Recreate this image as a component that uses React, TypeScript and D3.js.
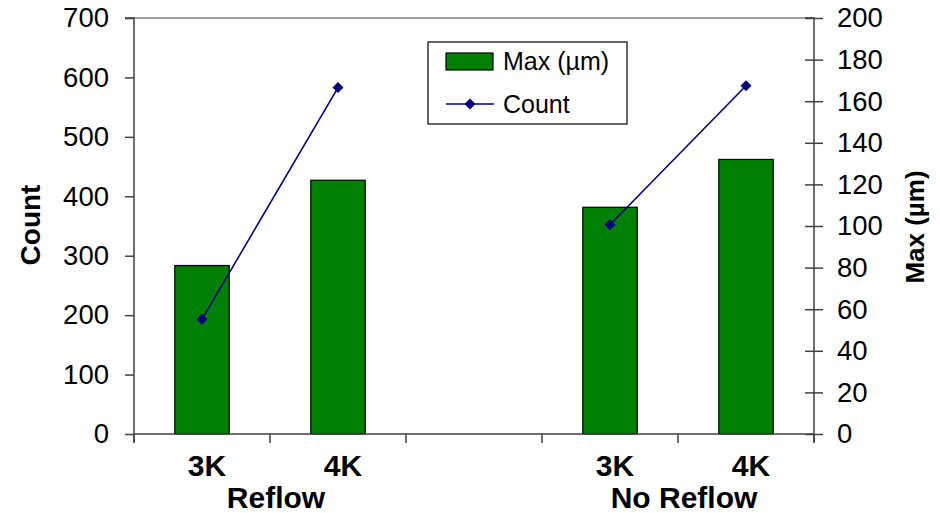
import { useEffect, useRef } from "react";
import * as d3 from "d3";

const CATEGORIES = ["R3K", "R4K", "gap", "N3K", "N4K"];
const CATEGORY_LABELS = ["3K", "4K", "", "3K", "4K"];
const GROUP_LABELS = ["Reflow", "No Reflow"];
const GROUP_SPANS = [["R3K", "R4K"], ["N3K", "N4K"]];
const MAX_UM: (number | null)[] = [81, 122, null, 109, 132];
const COUNT: (number | null)[] = [193, 583, null, 352, 586];
const COUNT_TICKS = [0, 100, 200, 300, 400, 500, 600, 700];
const MAX_TICKS = [0, 20, 40, 60, 80, 100, 120, 140, 160, 180, 200];

const W = 940;
const H = 513;
const FONT = "'Liberation Sans', Arial, sans-serif";
const BAR_COLOR = "#008000";
const LINE_COLOR = "#000080";
const AXIS_COLOR = "#404040";

function buildChart(svgEl: SVGSVGElement) {
  const margin = { top: 18, right: 126, bottom: 79, left: 134 };
  const innerW = W - margin.left - margin.right;
  const innerH = H - margin.top - margin.bottom;

  const svg = d3.select(svgEl);
  svg.selectAll("*").remove();

  const g = svg.append("g").attr("transform", `translate(${margin.left},${margin.top})`);

  const x = d3.scaleBand<string>().domain(CATEGORIES).range([0, innerW]).padding(0);
  const yCount = d3.scaleLinear().domain([0, 700]).range([innerH, 0]);
  const yMax = d3.scaleLinear().domain([0, 200]).range([innerH, 0]);
  const barW = x.bandwidth() * 0.4;
  const cx = (c: string) => (x(c) as number) + x.bandwidth() / 2;

  // top border of plot area
  g.append("line")
    .attr("x1", 0).attr("x2", innerW).attr("y1", 0).attr("y2", 0)
    .attr("stroke", "#808080").attr("stroke-width", 1.5);

  // bars (Max)
  g.append("g")
    .selectAll("rect")
    .data(CATEGORIES.map((c, i) => ({ c, v: MAX_UM[i] })).filter(d => d.v != null))
    .join("rect")
    .attr("x", d => cx(d.c) - barW / 2)
    .attr("y", d => yMax(d.v as number))
    .attr("width", barW)
    .attr("height", d => innerH - yMax(d.v as number))
    .attr("fill", BAR_COLOR)
    .attr("stroke", "#000")
    .attr("stroke-width", 1.2);

  // x axis: boundary ticks
  const xAxis = g.append("g").attr("transform", `translate(0,${innerH})`);
  xAxis.append("line")
    .attr("x1", 0).attr("x2", innerW)
    .attr("stroke", AXIS_COLOR).attr("stroke-width", 1.5);
  const bounds = CATEGORIES.map(c => x(c) as number).concat([innerW]);
  xAxis.selectAll("line.tick")
    .data(bounds)
    .join("line")
    .attr("class", "tick")
    .attr("x1", d => d).attr("x2", d => d)
    .attr("y1", 0).attr("y2", 9)
    .attr("stroke", AXIS_COLOR).attr("stroke-width", 1.5);

  xAxis.selectAll("text.cat")
    .data(CATEGORIES.map((c, i) => ({ c, label: CATEGORY_LABELS[i] })).filter(d => d.label))
    .join("text")
    .attr("class", "cat")
    .attr("x", d => cx(d.c) + 5)
    .attr("y", 42)
    .attr("text-anchor", "middle")
    .style("font-family", FONT)
    .style("font-size", "30px")
    .style("font-weight", "bold")
    .text(d => d.label);

  xAxis.selectAll("text.group")
    .data(GROUP_SPANS.map((s, i) => ({ s, label: GROUP_LABELS[i] })))
    .join("text")
    .attr("class", "group")
    .attr("x", d => (cx(d.s[0]) + cx(d.s[1])) / 2 + 6)
    .attr("y", 74)
    .attr("text-anchor", "middle")
    .style("font-family", FONT)
    .style("font-size", "30px")
    .style("font-weight", "bold")
    .text(d => d.label);

  // left axis (Count)
  g.append("g")
    .call(d3.axisLeft(yCount).tickValues(COUNT_TICKS).tickSize(9).tickPadding(16))
    .call(ax => {
      ax.select(".domain").attr("stroke", AXIS_COLOR).attr("stroke-width", 1.5)
        .attr("d", `M-9,0H0V${innerH + 9}`);
      ax.selectAll("line").attr("stroke", AXIS_COLOR).attr("stroke-width", 1.5);
      ax.selectAll("text")
        .attr("fill", "#000")
        .style("font-family", FONT)
        .style("font-size", "27.5px");
    });

  // right axis (Max)
  g.append("g")
    .attr("transform", `translate(${innerW},0)`)
    .call(d3.axisRight(yMax).tickValues(MAX_TICKS).tickSize(9).tickPadding(14))
    .call(ax => {
      ax.select(".domain").attr("stroke", AXIS_COLOR).attr("stroke-width", 1.5)
        .attr("d", `M-9,0H0V${innerH + 9}`);
      ax.selectAll(".tick line")
        .attr("x1", -9).attr("x2", 9)
        .attr("stroke", AXIS_COLOR).attr("stroke-width", 1.5);
      ax.selectAll("text")
        .attr("fill", "#000")
        .style("font-family", FONT)
        .style("font-size", "27.5px");
    });

  // count line (broken at the gap)
  const pts = CATEGORIES.map((c, i) => ({ c, v: COUNT[i] }));
  const line = d3.line<{ c: string; v: number | null }>()
    .defined(d => d.v != null)
    .x(d => cx(d.c))
    .y(d => yCount(d.v as number));
  g.append("path")
    .datum(pts)
    .attr("fill", "none")
    .attr("stroke", LINE_COLOR)
    .attr("stroke-width", 1.6)
    .attr("d", line);

  const diamond = d3.symbol().type(d3.symbolSquare).size(60);
  g.append("g")
    .selectAll("path")
    .data(pts.filter(d => d.v != null))
    .join("path")
    .attr("d", diamond)
    .attr("transform", d => `translate(${cx(d.c)},${yCount(d.v as number)}) rotate(45)`)
    .attr("fill", LINE_COLOR);

  // axis titles
  svg.append("text")
    .attr("transform", `translate(40,225) rotate(-90)`)
    .attr("text-anchor", "middle")
    .style("font-family", FONT)
    .style("font-size", "28px")
    .style("font-weight", "bold")
    .text("Count");

  svg.append("text")
    .attr("transform", `translate(924,227) rotate(-90)`)
    .attr("text-anchor", "middle")
    .style("font-family", FONT)
    .style("font-size", "26px")
    .style("font-weight", "bold")
    .text("Max (µm)");

  // legend
  const lg = svg.append("g").attr("transform", "translate(428,42)");
  lg.append("rect")
    .attr("width", 199).attr("height", 82)
    .attr("fill", "#fff").attr("stroke", "#000").attr("stroke-width", 1.2);
  lg.append("rect")
    .attr("x", 18).attr("y", 11).attr("width", 47).attr("height", 17)
    .attr("fill", BAR_COLOR).attr("stroke", "#000").attr("stroke-width", 1.2);
  lg.append("text")
    .attr("x", 75).attr("y", 28)
    .style("font-family", FONT).style("font-size", "25px")
    .text("Max (µm)");
  lg.append("line")
    .attr("x1", 18).attr("x2", 66).attr("y1", 62).attr("y2", 62)
    .attr("stroke", LINE_COLOR).attr("stroke-width", 1.6);
  lg.append("path")
    .attr("d", diamond)
    .attr("transform", "translate(42,62) rotate(45)")
    .attr("fill", LINE_COLOR);
  lg.append("text")
    .attr("x", 75).attr("y", 71)
    .style("font-family", FONT).style("font-size", "25px")
    .text("Count");
}

export default function App() {
  const svgRef = useRef<SVGSVGElement>(null);

  useEffect(() => {
    if (svgRef.current) buildChart(svgRef.current);
  }, []);

  return (
    <svg
      ref={svgRef}
      width={W}
      height={H}
      style={{ position: "absolute", left: 0, top: 0, background: "#fff", display: "block" }}
    />
  );
}
